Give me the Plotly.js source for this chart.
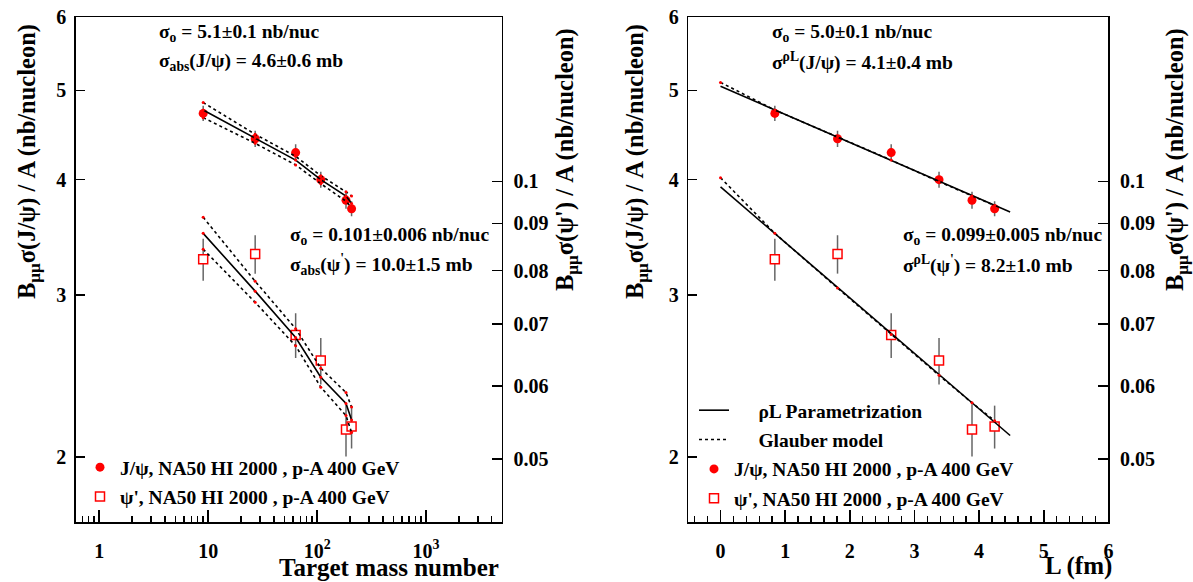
<!DOCTYPE html>
<html>
<head>
<meta charset="utf-8">
<script src="https://cdn.plot.ly/plotly-3.0.1.min.js"></script>
<style>html,body{margin:0;padding:0;background:#fff;}#chart{width:1193px;height:582px;}</style>
</head>
<body>
<div id="chart"></div>
<script>
// ---- data ----
const targetA = [9, 27, 63.5, 108, 184, 207];
const pathL = [0.84, 1.81, 2.64, 3.38, 3.89, 4.24];
const jpsi = [4.72, 4.43, 4.28, 4.00, 3.80, 3.72];
const jpsiErr = [0.09, 0.09, 0.09, 0.08, 0.08, 0.07];
const psip = [0.0823, 0.0834, 0.0681, 0.0639, 0.0538, 0.0542];
const psipErr = [0.0043, 0.0040, 0.0038, 0.0037, 0.0035, 0.0029];

// Glauber fit vs A (left panel)
const jpsiFitA = [4.76, 4.44, 4.20, 4.00, 3.84, 3.77];
const jpsiFitAHi = [4.85, 4.48, 4.24, 4.04, 3.88, 3.84];
const jpsiFitALo = [4.67, 4.38, 4.15, 3.96, 3.79, 3.73];
const psipFitA = [0.0878, 0.0760, 0.0677, 0.0613, 0.0574, 0.0551];
const psipFitAHi = [0.0914, 0.0779, 0.0692, 0.0627, 0.0590, 0.0569];
const psipFitALo = [0.0844, 0.0739, 0.0663, 0.0598, 0.0557, 0.0534];

// rhoL parametrization and Glauber model vs L (right panel)
const lineL = [0, 4.48];
const jpsiRhoL = [5.05, 3.69];
const psipRhoL = [0.0986, 0.0530];
const glauberL = [0, 0.84, 1.81, 2.64, 3.38, 3.89, 4.24];
const jpsiGlauber = [5.10, 4.76, 4.45, 4.20, 3.98, 3.84, 3.75];
const psipGlauber = [0.1009, 0.0878, 0.0766, 0.0682, 0.0616, 0.0575, 0.0550];

// tick labels
const leftYTicks = [2, 3, 4, 5, 6];
const rightYTicks = [0.05, 0.06, 0.07, 0.08, 0.09, 0.1];
const rightYTickText = ['0.05', '0.06', '0.07', '0.08', '0.09', '0.1'];
const aTicks = [1, 10, 100, 1000];
const aTickText = ['1', '10', '10<sup>2</sup>', '10<sup>3</sup>'];
const aMinorTicks = [0.7, 0.8, 0.9, 2, 3, 4, 5, 6, 7, 8, 9, 20, 30, 40, 50, 60, 70, 80, 90,
  200, 300, 400, 500, 600, 700, 800, 900, 2000, 3000, 4000];

const legendJ = 'J/\u03c8, NA50 HI 2000 , p-A 400 GeV';
const legendP = '\u03c8\', NA50 HI 2000 , p-A 400 GeV';

// ---- styles ----
const FONT = 'Liberation Serif, Times New Roman, serif';
const RED = '#ff0000';
const k = 0.0251; // ratio of right to left y scale
const yLo = 1.7, yHi = 6;
const W = 1193, H = 582;

function errStyle(arr) {
  return {type: 'data', array: arr, visible: true, color: '#666666', thickness: 1.5, width: 0};
}
const circ = {symbol: 'circle', size: 9, color: RED, line: {width: 0}};
const sq = {symbol: 'square', size: 9, color: '#ffffff', line: {color: RED, width: 1.5}};
const solid = {color: '#000000', width: 1.6};
const dashed = {color: '#000000', width: 1.6, dash: '3px,3px'};
const dots = {color: RED, size: 3};

const traces = [
  // ---- left panel ----
  {x: targetA, y: jpsi, error_y: errStyle(jpsiErr), mode: 'markers', marker: circ,
   name: legendJ, xaxis: 'x', yaxis: 'y', legend: 'legend', legendgroup: 'lj'},
  {x: targetA, y: psip, error_y: errStyle(psipErr), mode: 'markers', marker: sq,
   name: legendP, xaxis: 'x', yaxis: 'y2', legend: 'legend', legendgroup: 'lp'},
  {x: targetA, y: jpsiFitA, mode: 'lines+markers', line: solid, marker: dots, showlegend: false, xaxis: 'x', yaxis: 'y'},
  {x: targetA, y: jpsiFitAHi, mode: 'lines+markers', line: dashed, marker: dots, showlegend: false, xaxis: 'x', yaxis: 'y'},
  {x: targetA, y: jpsiFitALo, mode: 'lines+markers', line: dashed, marker: dots, showlegend: false, xaxis: 'x', yaxis: 'y'},
  {x: targetA, y: psipFitA, mode: 'lines+markers', line: solid, marker: dots, showlegend: false, xaxis: 'x', yaxis: 'y2'},
  {x: targetA, y: psipFitAHi, mode: 'lines+markers', line: dashed, marker: dots, showlegend: false, xaxis: 'x', yaxis: 'y2'},
  {x: targetA, y: psipFitALo, mode: 'lines+markers', line: dashed, marker: dots, showlegend: false, xaxis: 'x', yaxis: 'y2'},
  // ---- right panel ----
  {x: pathL, y: jpsi, error_y: errStyle(jpsiErr), mode: 'markers', marker: circ,
   name: legendJ, xaxis: 'x2', yaxis: 'y3', legend: 'legend2', legendgroup: 'rj', legendrank: 3},
  {x: pathL, y: psip, error_y: errStyle(psipErr), mode: 'markers', marker: sq,
   name: legendP, xaxis: 'x2', yaxis: 'y4', legend: 'legend2', legendgroup: 'rp', legendrank: 4},
  {x: lineL, y: jpsiRhoL, mode: 'lines', line: solid, name: '\u00a0\u00a0\u00a0\u00a0\u00a0\u03c1L Parametrization',
   xaxis: 'x2', yaxis: 'y3', legend: 'legend2', legendgroup: 'rs', legendrank: 1},
  {x: lineL, y: psipRhoL, mode: 'lines', line: solid, showlegend: false, legendgroup: 'rs',
   xaxis: 'x2', yaxis: 'y4', legend: 'legend2'},
  {x: glauberL, y: jpsiGlauber, mode: 'lines', line: dashed, name: '\u00a0\u00a0\u00a0\u00a0\u00a0Glauber model',
   xaxis: 'x2', yaxis: 'y3', legend: 'legend2', legendgroup: 'rg', legendrank: 2},
  {x: glauberL, y: psipGlauber, mode: 'lines', line: dashed, showlegend: false, legendgroup: 'rg',
   xaxis: 'x2', yaxis: 'y4', legend: 'legend2'},
  {x: glauberL, y: jpsiGlauber, mode: 'markers', marker: dots, showlegend: false, xaxis: 'x2', yaxis: 'y3'},
  {x: glauberL, y: psipGlauber, mode: 'markers', marker: dots, showlegend: false, xaxis: 'x2', yaxis: 'y4'}
];

const tickFont = {family: FONT, size: 20, color: '#000', weight: 'bold'};
const yDom = [1 - 522.3 / H, 1 - 17.3 / H];
const baseAxis = {showgrid: false, zeroline: false, showline: true, linecolor: '#000', linewidth: 1.5,
  ticks: 'inside', tickcolor: '#000', tickwidth: 1.5, tickfont: tickFont};

function leftY(anchor) {
  return Object.assign({}, baseAxis, {type: 'log', domain: yDom, anchor: anchor,
    range: [Math.log10(yLo), Math.log10(yHi)], tickmode: 'array', tickvals: leftYTicks,
    ticktext: leftYTicks.map(String), ticklen: 9, ticklabelstandoff: 4});
}
function rightY(anchor, over) {
  return Object.assign({}, baseAxis, {type: 'log', anchor: anchor, overlaying: over, side: 'right',
    range: [Math.log10(yLo * k), Math.log10(yHi * k)], tickmode: 'array', tickvals: rightYTicks,
    ticktext: rightYTickText, ticklen: 10, ticklabelstandoff: 6});
}

const annFont = {family: FONT, size: 19.5, color: '#000', weight: 'bold'};
function txt(t, px, py, extra) {
  return Object.assign({text: t, xref: 'paper', yref: 'paper', x: px / W, y: 1 - py / H,
    xanchor: 'left', yanchor: 'middle', showarrow: false, font: annFont}, extra || {});
}
const titleFont = {family: FONT, size: 24.5, color: '#000', weight: 'bold'};
const xtitleFont = {family: FONT, size: 25, color: '#000', weight: 'bold'};
const legFont = {family: FONT, size: 19.5, color: '#000', weight: 'bold'};

const layout = {
  width: W, height: H,
  margin: {l: 0, r: 0, t: 0, b: 0},
  paper_bgcolor: '#fff', plot_bgcolor: '#fff',
  font: {family: FONT, color: '#000'},
  xaxis: Object.assign({}, baseAxis, {type: 'log', domain: [75.8 / W, 501.9 / W], anchor: 'y',
    range: [-0.2147, 3.6955], tickmode: 'array', tickvals: aTicks, ticktext: aTickText, ticklen: 12,
    mirror: true, ticklabelstandoff: 10,
    minor: {tickmode: 'array', tickvals: aMinorTicks, ticks: 'inside', ticklen: 6, tickwidth: 1.5, tickcolor: '#000'}}),
  yaxis: leftY('x'),
  yaxis2: rightY('x', 'y'),
  xaxis2: Object.assign({}, baseAxis, {domain: [688.2 / W, 1108.4 / W], anchor: 'y3',
    range: [-0.5, 6], tick0: 0, dtick: 1, ticklen: 12, mirror: true, ticklabelstandoff: 10,
    minor: {tick0: 0, dtick: 0.2, ticks: 'inside', ticklen: 6, tickwidth: 1.5, tickcolor: '#000'}}),
  yaxis3: leftY('x2'),
  yaxis4: rightY('x2', 'y3'),
  legend: {x: 80 / W, xanchor: 'left', y: 1 - 448 / H, yanchor: 'top', bgcolor: 'rgba(0,0,0,0)',
    font: legFont, traceorder: 'grouped', tracegroupgap: 1},
  legend2: {x: 694 / W, xanchor: 'left', y: 1 - 391 / H, yanchor: 'top', bgcolor: 'rgba(0,0,0,0)',
    font: legFont, traceorder: 'grouped', tracegroupgap: 1},
  annotations: [
    txt('\u03c3<sub>o</sub> = 5.1\u00b10.1 nb/nuc', 157, 33.3),
    txt('\u03c3<sub>abs</sub>(J/\u03c8) = 4.6\u00b10.6 mb', 157, 61.7),
    txt('\u03c3<sub>o</sub> = 0.101\u00b10.006 nb/nuc', 288, 236),
    txt('\u03c3<sub>abs</sub>(\u03c8<sup>\'</sup>) = 10.0\u00b11.5 mb', 288, 265),
    txt('\u03c3<sub>o</sub> = 5.0\u00b10.1 nb/nuc', 769.5, 33.3),
    txt('\u03c3<sup>\u03c1L</sup>(J/\u03c8) = 4.1\u00b10.4 mb', 769.5, 61.7),
    txt('\u03c3<sub>o</sub> = 0.099\u00b10.005 nb/nuc', 901, 236),
    txt('\u03c3<sup>\u03c1L</sup>(\u03c8<sup>\'</sup>) = 8.2\u00b11.0 mb', 901, 265),
    txt('B<sub>\u03bc\u03bc</sub>\u03c3(J/\u03c8) / A (nb/nucleon)', 28, 162, {textangle: -90, xanchor: 'center', font: titleFont}),
    txt('B<sub>\u03bc\u03bc</sub>\u03c3(\u03c8\') / A (nb/nucleon)', 566, 160, {textangle: -90, xanchor: 'center', font: titleFont}),
    txt('B<sub>\u03bc\u03bc</sub>\u03c3(J/\u03c8) / A (nb/nucleon)', 636, 162, {textangle: -90, xanchor: 'center', font: titleFont}),
    txt('B<sub>\u03bc\u03bc</sub>\u03c3(\u03c8\') / A (nb/nucleon)', 1176, 160, {textangle: -90, xanchor: 'center', font: titleFont}),
    txt('Target mass number', 501, 567, {xanchor: 'right', font: xtitleFont}),
    txt('L (fm)', 1114, 566, {xanchor: 'right', font: xtitleFont})
  ]
};

Plotly.newPlot('chart', traces, layout, {displayModeBar: false, staticPlot: true});
</script>
</body>
</html>
